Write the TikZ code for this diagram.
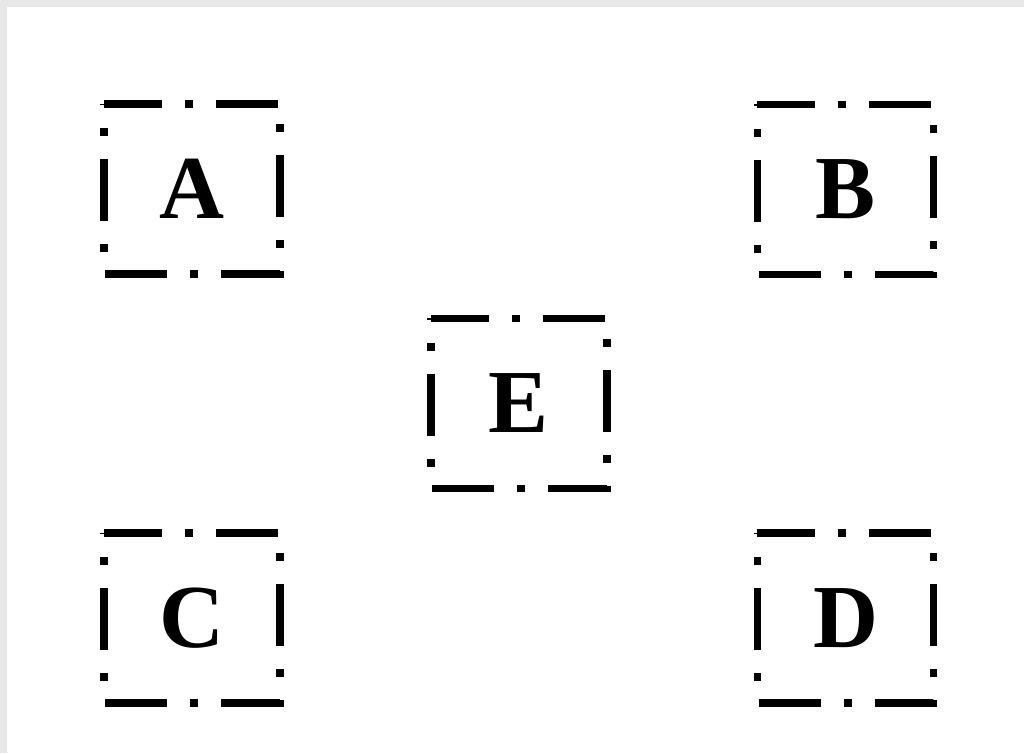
\documentclass[tikz,border=0pt]{standalone}
\usepackage{fontspec}
\setmainfont{Liberation Serif}
\definecolor{framegray}{RGB}{232,232,232}

\begin{document}
\begin{tikzpicture}[x=1pt, y=-1pt,
    letter/.style={minimum width=176pt, minimum height=170pt, inner sep=0pt, font=\fontsize{90}{90}\selectfont\bfseries},
    frame/.style={line width=7.5pt, dash pattern=on 62pt off 23pt on 8pt off 23pt, dash phase=4pt}
  ]
    \fill[framegray] (0,0) rectangle (1024,753);
    \fill[white] (7,7) rectangle (1024,753);

    \node[letter] (A) at (192,189) {A};
    \node[letter] (B) at (845.5,189.5) {B};
    \node[letter] (E) at (519,403.5) {E};
    \node[letter] (C) at (192,618) {C};
    \node[letter] (D) at (845.5,618) {D};

    \foreach \n in {A,B,C,D,E}
      \draw[frame] (\n.north west) -- (\n.north east) -- (\n.south east) -- (\n.south west) -- cycle;
  \end{tikzpicture}
\end{document}
